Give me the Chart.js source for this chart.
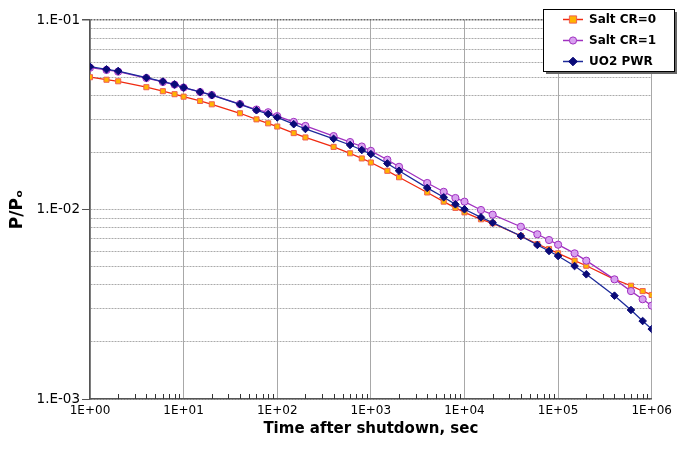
<!DOCTYPE html>
<html>
<head>
<meta charset="utf-8">
<script src="https://cdn.jsdelivr.net/npm/chart.js@4/dist/chart.umd.min.js"></script>
<style>
  html, body { margin: 0; padding: 0; background: #fff; }
  #wrap { width: 677px; height: 460px; }
</style>
</head>
<body>
<div id="wrap"><canvas id="decay" width="677" height="460"></canvas></div>
<script>
'use strict';

// data
const times = [1, 1.5, 2, 4, 6, 8, 10, 15, 20, 40, 60, 80, 100, 150, 200, 400, 600, 800,
  1e3, 1.5e3, 2e3, 4e3, 6e3, 8e3, 1e4, 1.5e4, 2e4, 4e4, 6e4, 8e4, 1e5, 1.5e5, 2e5, 4e5, 6e5, 8e5, 1e6];

const saltCR0 = [0.0499, 0.0484, 0.0475, 0.0442, 0.0421, 0.0406, 0.0394, 0.0374, 0.0359, 0.0322,
  0.0299, 0.0285, 0.0274, 0.0253, 0.0240, 0.0214, 0.0198, 0.0186, 0.0177, 0.0160, 0.0148,
  0.0123, 0.0110, 0.0102, 0.00966, 0.00888, 0.00846, 0.00725, 0.00657, 0.00619, 0.00587,
  0.00537, 0.00505, 0.00428, 0.00396, 0.00371, 0.00354];

const saltCR1 = [0.0560, 0.0545, 0.0534, 0.0494, 0.0471, 0.0456, 0.0440, 0.0417, 0.0402, 0.0360,
  0.0337, 0.0326, 0.0311, 0.0290, 0.0276, 0.0244, 0.0227, 0.0215, 0.0204, 0.0183, 0.0168,
  0.0138, 0.0124, 0.0115, 0.0110, 0.00994, 0.00939, 0.00811, 0.00740, 0.00690, 0.00652,
  0.00587, 0.00537, 0.00428, 0.00371, 0.00336, 0.00311];

const uo2PWR = [0.0567, 0.0549, 0.0538, 0.0496, 0.0473, 0.0457, 0.0440, 0.0417, 0.0401, 0.0359,
  0.0334, 0.0319, 0.0306, 0.0282, 0.0266, 0.0236, 0.0219, 0.0206, 0.0196, 0.0175, 0.0160,
  0.0130, 0.0116, 0.01065, 0.01003, 0.00909, 0.00852, 0.00725, 0.00650, 0.00604, 0.00568,
  0.00503, 0.00455, 0.00351, 0.00295, 0.00258, 0.00234];

const seriesNames = ['Salt CR=0', 'Salt CR=1', 'UO2 PWR'];

const xTickValues = [1, 10, 100, 1e3, 1e4, 1e5, 1e6];
const xTickLabels = ['1E+00', '1E+01', '1E+02', '1E+03', '1E+04', '1E+05', '1E+06'];
const yTickValues = [1e-3, 1e-2, 1e-1];
const yTickLabels = ['1.E-03', '1.E-02', '1.E-01'];

// 1..9 x 10^n 사이 눈금 전부
function logSteps(from, to) {
  const out = [];
  for (let e = Math.round(Math.log10(from)); e < Math.round(Math.log10(to)); e++) {
    for (let m = 1; m <= 9; m++) out.push({ value: +(m * Math.pow(10, e)).toPrecision(3) });
  }
  out.push({ value: to });
  return out;
}
function isDecade(v) {
  const l = Math.log10(v);
  return Math.abs(l - Math.round(l)) < 1e-6;
}
function pts(ys) {
  return times.map((t, i) => ({ x: t, y: ys[i] }));
}

// x축 안쪽 작은 눈금
const minorTicks = {
  id: 'minorTicks',
  afterDraw(chart) {
    const ctx = chart.ctx, x = chart.scales.x, bottom = chart.chartArea.bottom;
    ctx.save();
    ctx.strokeStyle = '#333';
    ctx.lineWidth = 1;
    logSteps(1, 1e6).forEach(t => {
      if (isDecade(t.value)) return;
      const px = Math.round(x.getPixelForValue(t.value)) + 0.5;
      ctx.beginPath();
      ctx.moveTo(px, bottom);
      ctx.lineTo(px, bottom - 5);
      ctx.stroke();
    });
    ctx.restore();
  }
};

// 범례 박스 (그림자 포함)
const boxLegend = {
  id: 'boxLegend',
  afterDraw(chart) {
    const ctx = chart.ctx;
    const left = 543, top = 9, w = 131, h = 62;
    ctx.save();
    ctx.fillStyle = '#666';
    ctx.fillRect(left + 3, top + 3, w, h);
    ctx.fillStyle = '#fff';
    ctx.fillRect(left, top, w, h);
    ctx.strokeStyle = '#000';
    ctx.lineWidth = 1;
    ctx.strokeRect(left + 0.5, top + 0.5, w, h);
    const rows = [19, 40, 61];
    chart.data.datasets.forEach((ds, i) => {
      const y = rows[i] + 0.5;
      ctx.strokeStyle = ds.borderColor;
      ctx.lineWidth = 1.5;
      ctx.beginPath();
      ctx.moveTo(563, y);
      ctx.lineTo(583, y);
      ctx.stroke();
      ctx.fillStyle = ds.pointBackgroundColor;
      ctx.strokeStyle = ds.pointBorderColor;
      ctx.lineWidth = 1;
      ctx.beginPath();
      drawMarker(ctx, ds.pointStyle, 573, y, ds.pointRadius);
      ctx.fill();
      ctx.stroke();
      ctx.fillStyle = '#000';
      ctx.font = 'bold 12px "DejaVu Sans"';
      ctx.textBaseline = 'middle';
      ctx.fillText(ds.label, 589, y);
    });
    ctx.restore();
  }
};
function drawMarker(ctx, style, x, y, r) {
  if (style === 'circle') {
    ctx.arc(x, y, r, 0, Math.PI * 2);
  } else if (style === 'rect') {
    ctx.rect(x - r, y - r, r * 2, r * 2);
  } else {
    ctx.moveTo(x, y - r - 0.5); ctx.lineTo(x + r + 0.5, y);
    ctx.lineTo(x, y + r + 0.5); ctx.lineTo(x - r - 0.5, y); ctx.closePath();
  }
}

new Chart(document.getElementById('decay'), {
  type: 'line',
  data: {
    datasets: [{
      label: seriesNames[0],
      data: pts(saltCR0),
      borderColor: '#f02a10',
      borderWidth: 1.3,
      pointStyle: 'rect',
      pointRadius: 3.6,
      pointBackgroundColor: '#ffb400',
      pointBorderColor: '#f06050',
      pointBorderWidth: 1,
      order: 3
    }, {
      label: seriesNames[1],
      data: pts(saltCR1),
      borderColor: '#a030c0',
      borderWidth: 1.3,
      pointStyle: 'circle',
      pointRadius: 3.6,
      pointBackgroundColor: '#d8a0f0',
      pointBorderColor: '#a030c0',
      pointBorderWidth: 1,
      order: 2
    }, {
      label: seriesNames[2],
      data: pts(uo2PWR),
      borderColor: '#1c2a9a',
      borderWidth: 1.3,
      pointStyle: 'rectRot',
      pointRadius: 3.8,
      pointBackgroundColor: '#0a0a78',
      pointBorderColor: '#0a0a78',
      pointBorderWidth: 1,
      order: 1
    }]
  },
  options: {
    responsive: false,
    animation: false,
    layout: { padding: { top: 20, right: 25, left: 0, bottom: 0 } },
    plugins: {
      legend: { display: false },
      tooltip: { enabled: false }
    },
    scales: {
      x: {
        type: 'logarithmic',
        min: 1,
        max: 1e6,
        afterBuildTicks: s => { s.ticks = logSteps(1, 1e6); },
        afterFit: s => { s.height = 61; },
        grid: {
          drawTicks: false,
          color: c => (c.tick && isDecade(c.tick.value)) ? '#a8a8a8' : 'rgba(0,0,0,0)',
          lineWidth: 1
        },
        border: { color: '#555', width: 1.5 },
        ticks: {
          autoSkip: false,
          maxRotation: 0,
          padding: 5,
          color: '#000',
          font: { family: '"DejaVu Sans"', size: 12 },
          callback: v => {
            const i = xTickValues.findIndex(t => Math.abs(t - v) / t < 1e-6);
            return i >= 0 ? xTickLabels[i] : '';
          }
        },
        title: {
          display: true,
          text: 'Time after shutdown, sec',
          color: '#000',
          font: { family: '"DejaVu Sans"', size: 15, weight: 'bold' },
          padding: { top: 0, bottom: 22 }
        }
      },
      y: {
        type: 'logarithmic',
        min: 1e-3,
        max: 1e-1,
        afterBuildTicks: s => { s.ticks = logSteps(1e-3, 1e-1); },
        afterFit: s => { s.width = 90; },
        grid: {
          tickLength: 8,
          color: c => {
            if (!c.tick) return '#999';
            if (Math.abs(c.tick.value - 0.1) < 1e-9) return '#666';
            return '#aaaaaa';
          },
          tickColor: c => (c.tick && isDecade(c.tick.value)) ? '#555' : 'rgba(0,0,0,0)',
          lineWidth: c => (c.tick && Math.abs(c.tick.value - 0.1) < 1e-9) ? 1.5 : 1
        },
        border: { color: '#555', width: 1.5, dash: [2, 1] },
        ticks: {
          autoSkip: false,
          padding: 2,
          color: '#000',
          font: { family: '"DejaVu Sans"', size: 13.5 },
          callback: v => {
            const i = yTickValues.findIndex(t => Math.abs(t - v) / t < 1e-6);
            return i >= 0 ? yTickLabels[i] : '';
          }
        },
        title: {
          display: true,
          text: 'P/Pₒ',
          color: '#000',
          font: { family: '"DejaVu Sans"', size: 17, weight: 'bold' },
          padding: { top: 7, bottom: 0 }
        }
      }
    }
  },
  plugins: [minorTicks, boxLegend]
});
</script>
</body>
</html>
